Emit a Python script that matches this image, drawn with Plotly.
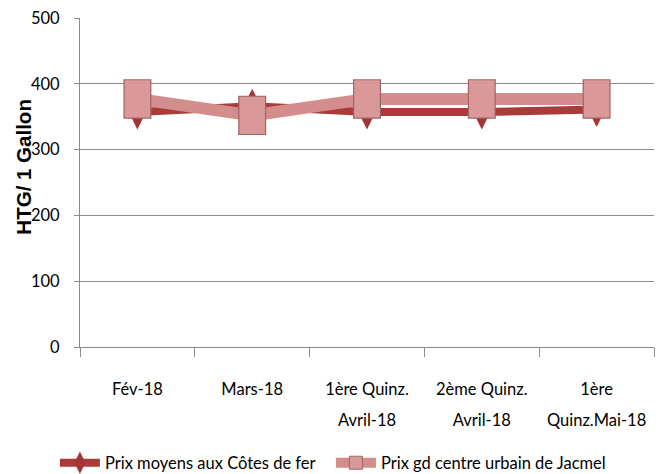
import plotly.graph_objects as go

categories = ["Fév-18", "Mars-18", "1ère Quinz.<br>Avril-18", "2ème Quinz.<br>Avril-18", "1ère<br>Quinz.Mai-18"]
cotes_de_fer = [357, 366, 357, 357, 361]
jacmel = [377, 352, 377, 377, 377]
series_names = ["Prix moyens aux Côtes de fer", "Prix gd centre urbain de Jacmel"]
y_title = "HTG/ 1 Gallon"
y_ticks = [0, 100, 200, 300, 400, 500]

FONT = "Lato, Roboto, sans-serif"

def lab(t):
    return "<br>".join('<span style="font-size:16.5px">%s</span>' % p for p in t.split("<br>"))

tick_text = [lab(c) for c in categories]

DARK = "#A93B3B"
PINK = "#D48D8D"
PINK_FILL = "#DB9898"
PINK_EDGE = "#A06565"

fig = go.Figure()
fig.add_trace(go.Scatter(
    x=categories, y=cotes_de_fer, name=series_names[0], mode="lines+markers",
    line=dict(color=DARK, width=8),
    marker=dict(symbol="diamond-tall", size=25, color="#A33535", line=dict(width=0)),
))
fig.add_trace(go.Scatter(
    x=categories, y=jacmel, name=series_names[1], mode="lines+markers",
    line=dict(color=PINK, width=12),
    marker=dict(symbol="square", size=13, color=PINK_FILL, line=dict(color=PINK_EDGE, width=1)),
))
fig.add_trace(go.Scatter(
    x=categories, y=jacmel, mode="markers", showlegend=False, hoverinfo="skip",
    marker=dict(size=1, opacity=0),
    error_y=dict(type="data", array=[30] * len(jacmel), symmetric=True,
                 thickness=28, width=0, color=PINK_EDGE),
))
fig.add_trace(go.Scatter(
    x=categories, y=jacmel, mode="markers", showlegend=False, hoverinfo="skip",
    marker=dict(size=1, opacity=0),
    error_y=dict(type="data", array=[28.3] * len(jacmel), symmetric=True,
                 thickness=25.5, width=0, color=PINK_FILL),
))

fig.update_layout(
    width=657, height=466,
    margin=dict(l=72, r=11, t=10, b=127, autoexpand=False),
    paper_bgcolor="white", plot_bgcolor="white",
    font=dict(family=FONT, color="black"),
    showlegend=True,
    legend=dict(orientation="h", x=-0.0437, xanchor="left", y=-0.3526, yanchor="middle",
                font=dict(family=FONT, size=16.5, color="black"), itemwidth=40,
                entrywidth=221, traceorder="normal"),
    xaxis=dict(
        type="category", tickmode="array", tickvals=categories, ticktext=tick_text,
        tickfont=dict(family=FONT, size=24, color="black"), tickangle=0, automargin=False,
        showline=True, linecolor="#8c8c8c", linewidth=1,
        ticks="outside", ticklen=9, tickcolor="#8c8c8c", tickson="boundaries",
        showgrid=False, range=[-0.5, 4.5], ticklabelstandoff=18,
        ticklabeloverflow="allow",
    ),
    yaxis=dict(
        range=[0, 500], tickvals=y_ticks, ticktext=[str(v) for v in y_ticks],
        tickfont=dict(family=FONT, size=16.5, color="black"), automargin=False,
        showline=True, linecolor="#8c8c8c", linewidth=1,
        ticks="outside", ticklen=5, tickcolor="#8c8c8c",
        showgrid=True, gridcolor="#8c8c8c", gridwidth=1, zeroline=False,
        ticklabelstandoff=11, ticklabeloverflow="allow",
    ),
    annotations=[dict(
        text="<b>%s</b>" % y_title, textangle=-90, xref="paper", yref="paper",
        x=-0.1, y=0.547, xanchor="center", yanchor="middle", showarrow=False,
        font=dict(family="Liberation Sans, Arial, sans-serif", size=20.5, color="black"),
    )],
    shapes=[
        dict(type="line", xref="paper", yref="paper", x0=1.0087, x1=1.0087, y0=-0.5, y1=1.2,
             line=dict(color="#7a7a7a", width=2)),
    ],
)

fig.write_html("out.html")
